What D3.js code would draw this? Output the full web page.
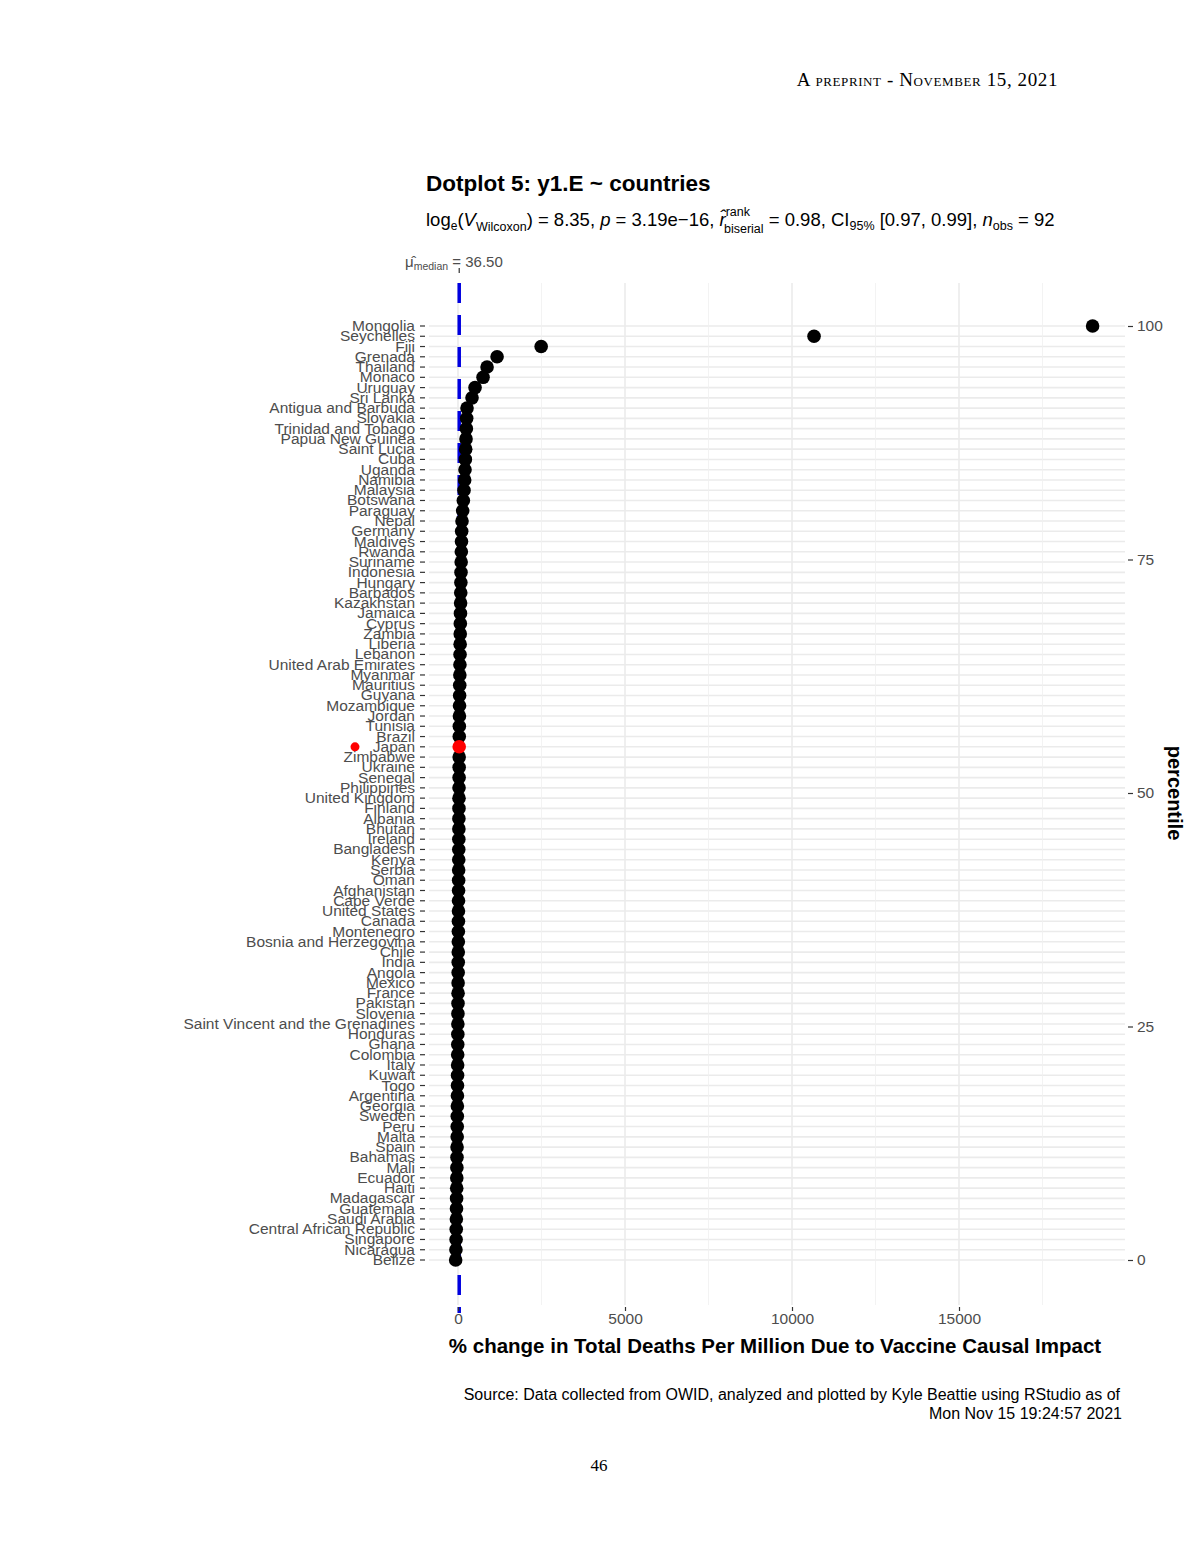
<!DOCTYPE html>
<html><head><meta charset="utf-8">
<script src="https://cdn.jsdelivr.net/npm/d3@7"></script>
<style>body{margin:0;background:#fff}</style>
</head><body>
<svg id="chart" width="1200" height="1553"></svg>
<script>
// countries from top (highest percentile) to bottom
const countries = ["Mongolia","Seychelles","Fiji","Grenada","Thailand","Monaco","Uruguay","Sri Lanka","Antigua and Barbuda","Slovakia",
  "Trinidad and Tobago","Papua New Guinea","Saint Lucia","Cuba","Uganda","Namibia","Malaysia","Botswana","Paraguay","Nepal",
  "Germany","Maldives","Rwanda","Suriname","Indonesia","Hungary","Barbados","Kazakhstan","Jamaica","Cyprus",
  "Zambia","Liberia","Lebanon","United Arab Emirates","Myanmar","Mauritius","Guyana","Mozambique","Jordan","Tunisia",
  "Brazil","Japan","Zimbabwe","Ukraine","Senegal","Philippines","United Kingdom","Finland","Albania","Bhutan",
  "Ireland","Bangladesh","Kenya","Serbia","Oman","Afghanistan","Cape Verde","United States","Canada","Montenegro",
  "Bosnia and Herzegovina","Chile","India","Angola","Mexico","France","Pakistan","Slovenia","Saint Vincent and the Grenadines","Honduras",
  "Ghana","Colombia","Italy","Kuwait","Togo","Argentina","Georgia","Sweden","Peru","Malta",
  "Spain","Bahamas","Mali","Ecuador","Haiti","Madagascar","Guatemala","Saudi Arabia","Central African Republic","Singapore",
  "Nicaragua","Belize"];
const pctChange = [19000,10660,2490,1170,870,750,510,420,270,260,250,240,230,220,210,200,180,160,140,120,
  110,105,100,95,90,86,82,78,74,70,
  67,64,61,58,55,52,49,46,43,40,38,36.5,
  35,34,33,31,30,29,27,26,25,23,22,20,19,17,16,14,13,11,10,8,
  7,5,3,2,0,-2,-4,-5,-7,-9,-11,-13,-15,-17,-19,-21,-23,-25,-28,-30,
  -33,-36,-39,-42,-45,-49,-53,-57,-62,-70];
const highlight = "Japan";
const medianValue = 36.5;
const xTicks = [0,5000,10000,15000];
const xMinor = [2500,7500,12500,17500];
const pTicks = [0,25,50,75,100];

const svg = d3.select("#chart");
const font = "Liberation Sans, Arial, sans-serif";
const n = countries.length;
const data = countries.map((c,i)=>({c, v:pctChange[i], p:(n-1-i)/(n-1)*100}));

const x = d3.scaleLinear().domain([0,15000]).range([458,959]);
const y = d3.scaleLinear().domain([0,100]).range([1260,326]);
const pLeft = 429, pRight = 1125, pTop = 283, pBottom = 1305;

// grid
const g = svg.append("g");
g.selectAll(".hg").data(data).enter().append("line")
  .attr("x1",pLeft).attr("x2",pRight).attr("y1",d=>y(d.p)).attr("y2",d=>y(d.p))
  .attr("stroke","#ebebeb").attr("stroke-width",1.6);
g.selectAll(".vm").data(xMinor).enter().append("line")
  .attr("x1",d=>x(d)).attr("x2",d=>x(d)).attr("y1",pTop).attr("y2",pBottom)
  .attr("stroke","#f0f0f0").attr("stroke-width",0.8);
g.selectAll(".vg").data(xTicks).enter().append("line")
  .attr("x1",d=>x(d)).attr("x2",d=>x(d)).attr("y1",pTop).attr("y2",pBottom)
  .attr("stroke","#ebebeb").attr("stroke-width",1.6);

// median dashed line
svg.append("line").attr("x1",x(medianValue)).attr("x2",x(medianValue))
  .attr("y1",pTop).attr("y2",pBottom+8).attr("stroke","#0000e0").attr("stroke-width",3.5)
  .attr("stroke-dasharray","20,12");
svg.append("line").attr("x1",x(medianValue)).attr("x2",x(medianValue))
  .attr("y1",268).attr("y2",273).attr("stroke","#333").attr("stroke-width",1.2);

// dots
svg.selectAll(".dot").data(data.filter(d=>d.c!==highlight)).enter().append("circle")
  .attr("cx",d=>x(d.v)).attr("cy",d=>y(d.p)).attr("r",6.8).attr("fill","#000");
const hl = data.find(d=>d.c===highlight);
svg.append("circle").attr("cx",x(hl.v)).attr("cy",y(hl.p)).attr("r",6.8).attr("fill","#ff0000");

// left axis labels
const la = svg.append("g");
la.selectAll("text").data(data).enter().append("text")
  .attr("x",415).attr("y",d=>y(d.p)+5).attr("text-anchor","end")
  .attr("font-family",font).attr("font-size",15.5).attr("fill","#4d4d4d").text(d=>d.c);
la.selectAll("line").data(data).enter().append("line")
  .attr("x1",420).attr("x2",425).attr("y1",d=>y(d.p)).attr("y2",d=>y(d.p))
  .attr("stroke","#333").attr("stroke-width",1.2);
svg.append("circle").attr("cx",355).attr("cy",y(hl.p)).attr("r",4.5).attr("fill","#ff0000");

// right axis
const ra = svg.append("g").attr("transform",`translate(${pRight+3},0)`)
  .call(d3.axisRight(y).tickValues(pTicks).tickSize(5).tickPadding(4));
ra.select(".domain").remove();
ra.selectAll("line").attr("stroke","#333").attr("stroke-width",1.2);
ra.selectAll("text").attr("font-family",font).attr("font-size",15.5).attr("fill","#4d4d4d");
svg.append("text").attr("transform","translate(1168,793) rotate(90)")
  .attr("text-anchor","middle").attr("font-family",font).attr("font-weight","bold")
  .attr("font-size",20).text("percentile");

// bottom axis
const ba = svg.append("g").attr("transform",`translate(0,${pBottom+2})`)
  .call(d3.axisBottom(x).tickValues(xTicks).tickSize(4).tickPadding(2).tickFormat(d3.format("d")));
ba.select(".domain").remove();
ba.selectAll("line").attr("stroke","#333").attr("stroke-width",1.2);
ba.selectAll("text").attr("font-family",font).attr("font-size",15.5).attr("fill","#4d4d4d");
svg.append("text").attr("x",775).attr("y",1353).attr("text-anchor","middle")
  .attr("font-family",font).attr("font-weight","bold").attr("font-size",20.5)
  .text("% change in Total Deaths Per Million Due to Vaccine Causal Impact");

// titles
svg.append("text").attr("x",426).attr("y",191).attr("font-family",font)
  .attr("font-weight","bold").attr("font-size",22.5).text("Dotplot 5: y1.E ~ countries");
const st = svg.append("text").attr("x",426).attr("y",226).attr("font-family",font).attr("font-size",18.5);
st.append("tspan").text("log");
st.append("tspan").attr("font-size",12).attr("dy",4).text("e");
st.append("tspan").attr("dy",-4).text("(");
st.append("tspan").attr("font-style","italic").text("V");
st.append("tspan").attr("font-size",12.5).attr("dy",5).text("Wilcoxon");
st.append("tspan").attr("dy",-5).text(") = 8.35, ");
st.append("tspan").attr("font-style","italic").text("p");
st.append("tspan").text(" = 3.19e\u221216, ");
st.append("tspan").attr("font-style","italic").text("\u0072\u0302");
st.append("tspan").attr("font-size",12.5).attr("dy",-10).text("rank");
st.append("tspan").attr("font-size",12.5).attr("dx",-26).attr("dy",17).text("biserial");
st.append("tspan").attr("dy",-7).text(" = 0.98, CI");
st.append("tspan").attr("font-size",12.5).attr("dy",4).text("95%");
st.append("tspan").attr("dy",-4).text(" [0.97, 0.99], ");
st.append("tspan").attr("font-style","italic").text("n");
st.append("tspan").attr("font-size",12.5).attr("dy",4).text("obs");
st.append("tspan").attr("dy",-4).text(" = 92");

const mt = svg.append("text").attr("x",405).attr("y",267).attr("font-family",font)
  .attr("font-size",15).attr("fill","#4d4d4d");
mt.append("tspan").text("\u03bc\u0302");
mt.append("tspan").attr("font-size",10.5).attr("dy",3).text("median");
mt.append("tspan").attr("dy",-3).text(" = 36.50");

// caption
const cap = svg.append("text").attr("text-anchor","end").attr("font-family",font)
  .attr("font-size",16).attr("fill","#000");
cap.append("tspan").attr("x",1120).attr("y",1400)
  .text("Source: Data collected from OWID, analyzed and plotted by Kyle Beattie using RStudio as of");
cap.append("tspan").attr("x",1122).attr("y",1419).text("Mon Nov 15 19:24:57 2021");

// page header and number
svg.append("text").attr("x",1058).attr("y",86).attr("text-anchor","end")
  .attr("font-family","Liberation Serif, serif").attr("font-size",19)
  .style("font-variant","small-caps").attr("letter-spacing",0.6)
  .text("A preprint - November 15, 2021");
svg.append("text").attr("x",599).attr("y",1471).attr("text-anchor","middle")
  .attr("font-family","Liberation Serif, serif").attr("font-size",17).text("46");
</script>
</body></html>
